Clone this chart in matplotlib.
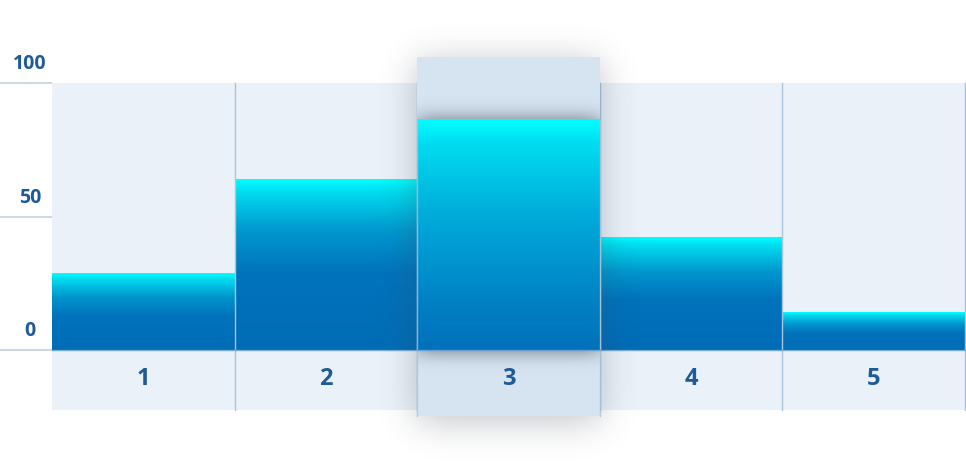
import numpy as np
import matplotlib
matplotlib.use("Agg")
import matplotlib.pyplot as plt
from matplotlib.colors import LinearSegmentedColormap
from matplotlib.patches import Rectangle

# ---- data ----
categories = ["1", "2", "3", "4", "5"]
values = [28.5, 64, 86.3, 42, 14]
y_ticks = [0, 50, 100]
highlight_index = 2

# ---- layout (pixels) ----
W, H = 966, 474
DPI = 100
PX_X = 182.6          # pixels per category
PX_Y = 2.67           # pixels per value unit
LEFT_PX = 52          # left edge of first category panel
ZERO_PX = 350.3       # pixel row of value 0

xlim = (0.5 - LEFT_PX / PX_X, 0.5 + (W - LEFT_PX) / PX_X)
ylim = (-(H - ZERO_PX) / PX_Y, ZERO_PX / PX_Y)

label_col = "#1E5A97"
panel_col = "#EAF1F8"
hl_col = "#D6E3F1"
sep_col = "#A9C4DC"
grid_col = "#BCCBDC"

fig = plt.figure(figsize=(W / DPI, H / DPI), dpi=DPI)
fig.patch.set_facecolor("white")
ax = fig.add_axes([0, 0, 1, 1])
ax.set_xlim(*xlim)
ax.set_ylim(*ylim)
ax.axis("off")


def to_px(x, y):
    return (x - xlim[0]) * PX_X, (ylim[1] - y) * PX_Y


def blur(a, sigma):
    r = int(3 * sigma)
    k = np.exp(-(np.arange(-r, r + 1) ** 2) / (2 * sigma ** 2))
    k /= k.sum()
    a = np.apply_along_axis(lambda m: np.convolve(m, k, mode="same"), 1, a)
    a = np.apply_along_axis(lambda m: np.convolve(m, k, mode="same"), 0, a)
    return a


def shadow(x0, y0, x1, y1, sigma, alpha, dy=0, zorder=1, clip=None):
    px0, py1 = to_px(x0, y0)
    px1, py0 = to_px(x1, y1)
    mask = np.zeros((H, W))
    mask[int(round(py0 + dy)):int(round(py1 + dy)), int(round(px0)):int(round(px1))] = 1.0
    b = blur(mask, sigma)
    img = np.zeros((H, W, 4))
    img[..., 0] = 0.22
    img[..., 1] = 0.26
    img[..., 2] = 0.32
    img[..., 3] = np.clip(b * alpha, 0, 1)
    im = ax.imshow(img, extent=(xlim[0], xlim[1], ylim[0], ylim[1]), origin="upper",
                   aspect="auto", interpolation="bilinear", zorder=zorder)
    if clip is not None:
        im.set_clip_path(clip)
    return im


n = len(categories)
xs = np.arange(1, n + 1)
panel_bottom = -(410 - ZERO_PX) / PX_Y
hl_bottom = -(416 - ZERO_PX) / PX_Y
hl_top = (ZERO_PX - 57) / PX_Y

# background panels
ax.add_patch(Rectangle((0.5, panel_bottom), n, 100 - panel_bottom,
                       facecolor=panel_col, edgecolor="none", zorder=0))

# left gridlines and y labels
for t in y_ticks:
    ax.plot([xlim[0], 0.5], [t, t], color=grid_col, lw=1.1, zorder=1, solid_capstyle="butt")
    ax.text(xlim[0] + 30 / PX_X, t + 19 / PX_Y, str(t), ha="center", va="center",
            fontsize=14, fontweight="bold", family="Open Sans", color=label_col, zorder=5)

# gradient colormaps
cmap_norm = LinearSegmentedColormap.from_list(
    "bar", [(0.0, "#00FFFF"), (0.07, "#00DDF0"), (0.3, "#0098CE"),
            (0.55, "#0073BC"), (1.0, "#006CB6")])
cmap_hl = LinearSegmentedColormap.from_list(
    "barhl", [(0.0, "#00FFFF"), (0.1, "#00DDF0"), (0.4, "#00ADDB"),
              (0.8, "#0080C4"), (1.0, "#0071BA")])
grad = np.linspace(0, 1, 256)

for i, (x, v) in enumerate(zip(xs, values)):
    if i == highlight_index:
        continue
    col = cmap_norm(grad)[:, None, :3]
    ax.imshow(col, extent=(x - 0.5, x + 0.5, 0, v), origin="upper", aspect="auto",
              interpolation="bilinear", zorder=2)

# separators
for x in xs:
    ax.plot([x + 0.5, x + 0.5], [panel_bottom, 100], color=sep_col, lw=1, zorder=3)
ax.plot([0.5, xlim[1]], [0, 0], color="#5E9CD2", lw=1, alpha=0.8, zorder=3)

# highlighted column shadow
hx = xs[highlight_index]
shadow(hx - 0.5, hl_bottom, hx + 0.5, hl_top, sigma=18, alpha=0.32, dy=5, zorder=4)

# highlighted panel
hl_rect = Rectangle((hx - 0.5, hl_bottom), 1, hl_top - hl_bottom,
                    facecolor=hl_col, edgecolor="none", zorder=5)
ax.add_patch(hl_rect)

# bar shadow inside highlighted panel
clip_rect = Rectangle((hx - 0.5, hl_bottom), 1, hl_top - hl_bottom, transform=ax.transData)
shadow(hx - 0.5, 0, hx + 0.5, values[highlight_index], sigma=10, alpha=0.75,
       dy=0, zorder=6, clip=clip_rect)

col = cmap_hl(grad)[:, None, :3]
ax.imshow(col, extent=(hx - 0.5, hx + 0.5, 0, values[highlight_index]), origin="upper",
          aspect="auto", interpolation="bilinear", zorder=7)
for ex in (hx - 0.5, hx + 0.5):
    ax.plot([ex, ex], [hl_bottom, values[highlight_index]], color=sep_col, lw=1, alpha=0.8, zorder=8)
ax.plot([hx - 0.5, hx + 0.5], [0, 0], color="#5E9CD2", lw=1, alpha=0.8, zorder=8)

# category labels
for x, c in zip(xs, categories):
    ax.text(x, -(379 - ZERO_PX) / PX_Y, c, ha="center", va="center", fontsize=17,
            fontweight="bold", family="Open Sans", color=label_col, zorder=9)

fig.savefig("out.png", dpi=DPI, facecolor="white")
